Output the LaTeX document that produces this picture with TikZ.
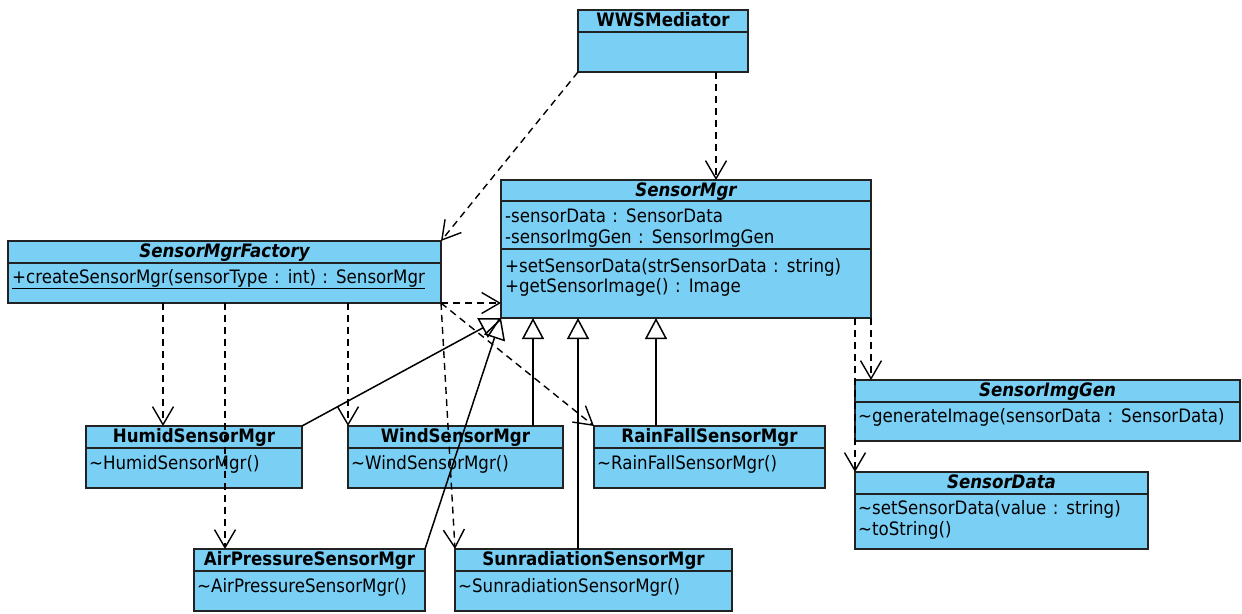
\documentclass[tikz,border=0pt]{standalone}
\usepackage{fontspec}
\setmainfont{DejaVu Sans}[FakeStretch=0.9, WordSpace=1.2]
\usetikzlibrary{arrows.meta}
\definecolor{clsfill}{RGB}{122,207,245}
\definecolor{clsline}{RGB}{34,34,34}
\tikzset{
  cls/.style={draw=clsline, line width=1.5pt, fill=clsfill, rectangle, anchor=north west, inner sep=0pt, outer sep=0pt},
  divline/.style={draw=clsline, line width=1.5pt},
  title/.style={anchor=base, inner sep=0pt, font=\fontsize{18.5}{22}\selectfont\bfseries},
  abstitle/.style={title, font=\fontsize{18.5}{22}\selectfont\bfseries\itshape},
  member/.style={anchor=base west, inner sep=0pt, font=\fontsize{18.5}{22}\selectfont},
  dep/.style={line width=1.4pt, dash pattern=on 7pt off 5pt, -{Straight Barb[length=18pt,width=21pt,line width=1.4pt]}},
  gen/.style={line width=1.5pt, -{Triangle[open,length=21pt,width=22pt,line width=1.5pt]}}
}
\begin{document}
\begin{tikzpicture}[x=1pt,y=-1pt]
\useasboundingbox (0,0) rectangle (1242,613);

% ---- classes ----
% WWSMediator
\node[cls, minimum width=170, minimum height=62] (wws) at (578,10) {};
\draw[divline] ([yshift=-22pt]wws.north west) -- ([yshift=-22pt]wws.north east);
\node[title] (wwsT) at ([yshift=-16.5pt]wws.north) {WWSMediator};

% SensorMgr
\node[cls, minimum width=370, minimum height=138] (sm) at (501,180) {};
\draw[divline] ([yshift=-21pt]sm.north west) -- ([yshift=-21pt]sm.north east);
\draw[divline] ([yshift=-69pt]sm.north west) -- ([yshift=-69pt]sm.north east);
\node[abstitle] (smT) at ([yshift=-16.5pt]sm.north) {SensorMgr};
\node[member] (smA1) at ([xshift=4pt,yshift=-42pt]sm.north west) {-sensorData : SensorData};
\node[member] (smA2) at ([xshift=4pt,yshift=-63pt]sm.north west) {-sensorImgGen : SensorImgGen};
\node[member] (smM1) at ([xshift=4pt,yshift=-92pt]sm.north west) {+setSensorData(strSensorData : string)};
\node[member] (smM2) at ([xshift=4pt,yshift=-112pt]sm.north west) {+getSensorImage() : Image};

% SensorMgrFactory
\node[cls, minimum width=433, minimum height=62] (fac) at (8,241) {};
\draw[divline] ([yshift=-22pt]fac.north west) -- ([yshift=-22pt]fac.north east);
\node[abstitle] (facT) at ([yshift=-16.5pt]fac.north) {SensorMgrFactory};
\node[member] (facM1) at ([xshift=4pt,yshift=-42pt]fac.north west) {\underline{+createSensorMgr(sensorType : int) : SensorMgr}};

% SensorImgGen
\node[cls, minimum width=385, minimum height=61] (img) at (855,380) {};
\draw[divline] ([yshift=-22pt]img.north west) -- ([yshift=-22pt]img.north east);
\node[abstitle] (imgT) at ([yshift=-16.5pt]img.north) {SensorImgGen};
\node[member] (imgM1) at ([xshift=3pt,yshift=-42pt]img.north west) {\textasciitilde generateImage(sensorData : SensorData)};

% SensorData
\node[cls, minimum width=293, minimum height=77] (data) at (855,472) {};
\draw[divline] ([yshift=-22pt]data.north west) -- ([yshift=-22pt]data.north east);
\node[abstitle] (dataT) at ([yshift=-16.5pt]data.north) {SensorData};
\node[member] (dataM1) at ([xshift=3pt,yshift=-42pt]data.north west) {\textasciitilde setSensorData(value : string)};
\node[member] (dataM2) at ([xshift=3pt,yshift=-63pt]data.north west) {\textasciitilde toString()};

% HumidSensorMgr
\node[cls, minimum width=216, minimum height=62] (hum) at (86,426) {};
\draw[divline] ([yshift=-22pt]hum.north west) -- ([yshift=-22pt]hum.north east);
\node[title] (humT) at ([yshift=-16.5pt]hum.north) {HumidSensorMgr};
\node[member] (humM1) at ([xshift=3pt,yshift=-43pt]hum.north west) {\textasciitilde HumidSensorMgr()};

% WindSensorMgr
\node[cls, minimum width=215, minimum height=62] (wind) at (348,426) {};
\draw[divline] ([yshift=-22pt]wind.north west) -- ([yshift=-22pt]wind.north east);
\node[title] (windT) at ([yshift=-16.5pt]wind.north) {WindSensorMgr};
\node[member] (windM1) at ([xshift=3pt,yshift=-43pt]wind.north west) {\textasciitilde WindSensorMgr()};

% RainFallSensorMgr
\node[cls, minimum width=231, minimum height=62] (rain) at (594,426) {};
\draw[divline] ([yshift=-22pt]rain.north west) -- ([yshift=-22pt]rain.north east);
\node[title] (rainT) at ([yshift=-16.5pt]rain.north) {RainFallSensorMgr};
\node[member] (rainM1) at ([xshift=3pt,yshift=-43pt]rain.north west) {\textasciitilde RainFallSensorMgr()};

% AirPressureSensorMgr
\node[cls, minimum width=231, minimum height=62] (air) at (194,549) {};
\draw[divline] ([yshift=-22pt]air.north west) -- ([yshift=-22pt]air.north east);
\node[title] (airT) at ([yshift=-16.5pt]air.north) {AirPressureSensorMgr};
\node[member] (airM1) at ([xshift=3pt,yshift=-43pt]air.north west) {\textasciitilde AirPressureSensorMgr()};

% SunradiationSensorMgr
\node[cls, minimum width=277, minimum height=62] (sun) at (455,549) {};
\draw[divline] ([yshift=-22pt]sun.north west) -- ([yshift=-22pt]sun.north east);
\node[title] (sunT) at ([yshift=-16.5pt]sun.north) {SunradiationSensorMgr};
\node[member] (sunM1) at ([xshift=3pt,yshift=-43pt]sun.north west) {\textasciitilde SunradiationSensorMgr()};

% ---- dependencies ----
\draw[dep] (wws.south west) -- (fac.north east);
\draw[dep] ([xshift=138pt]wws.south west) -- ([xshift=138pt]wws.south west |- sm.north);
\draw[dep] (fac.south east) -- (fac.south east -| sm.west);
\draw[dep] ([xshift=155pt]fac.south west) -- ([xshift=155pt]fac.south west |- hum.north);
\draw[dep] ([xshift=217pt]fac.south west) -- ([xshift=217pt]fac.south west |- air.north);
\draw[dep] ([xshift=340pt]fac.south west) -- (wind.north west);
\draw[dep] (fac.south east) -- (sun.north west);
\draw[dep] (fac.south east) -- (rain.north west);
\draw[dep] (sm.south east) -- (sm.south east |- img.north);
\draw[dep] (data.north west |- sm.south) -- (data.north west);

% ---- generalisations ----
\draw[gen] (hum.north east) -- (sm.south west);
\draw[gen] (air.north east) -- (sm.south west);
\draw[gen] ([xshift=-30pt]wind.north east) -- ([xshift=-30pt]wind.north east |- sm.south);
\draw[gen] ([xshift=123pt]sun.north west) -- ([xshift=123pt]sun.north west |- sm.south);
\draw[gen] ([xshift=62pt]rain.north west) -- ([xshift=62pt]rain.north west |- sm.south);
\end{tikzpicture}
\end{document}
